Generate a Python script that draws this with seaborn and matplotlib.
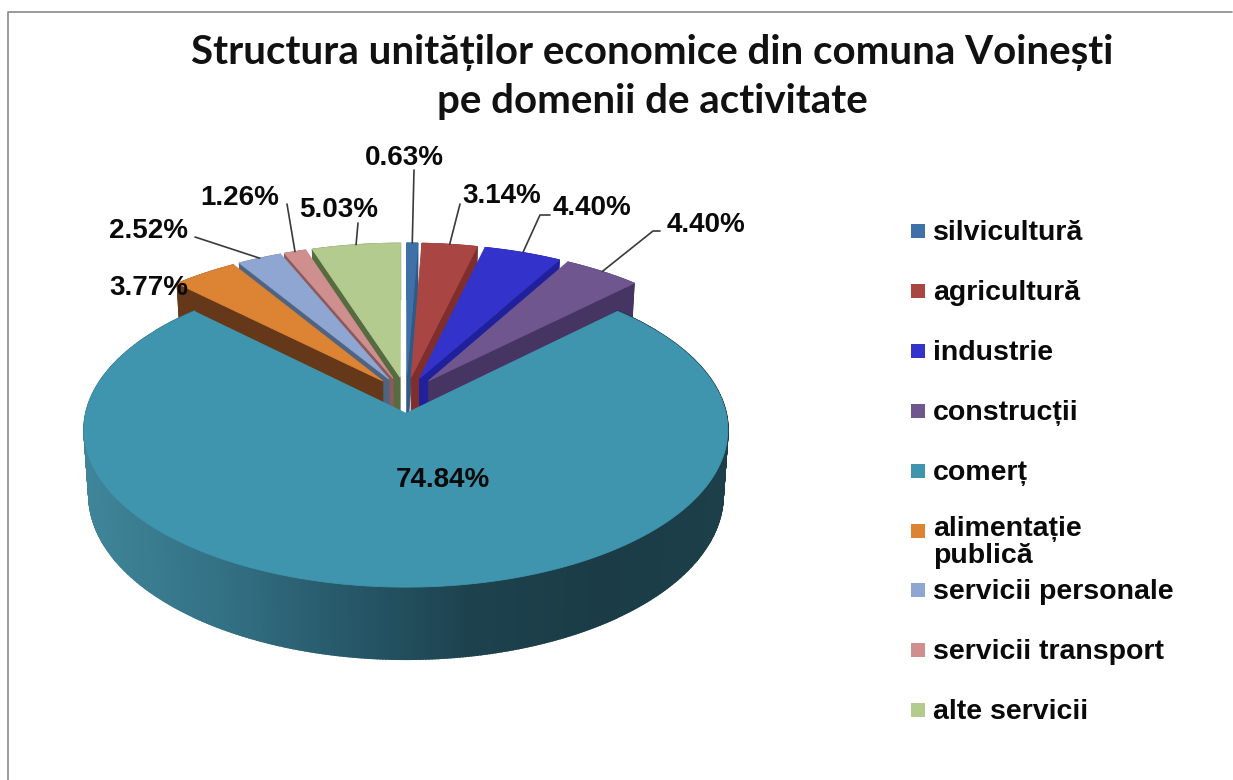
import numpy as np
import seaborn as sns
import matplotlib
matplotlib.use("Agg")
import matplotlib.pyplot as plt
from matplotlib.patches import Polygon, Rectangle

categories = ["silvicultură", "agricultură", "industrie", "construcții", "comerț",
              "alimentație\npublică", "servicii personale", "servicii transport", "alte servicii"]
shares = [0.63, 3.14, 4.40, 4.40, 74.84, 3.77, 2.52, 1.26, 5.03]
face_colors = ["#3f70a8", "#a94543", "#3333cc", "#70568f", "#4095ae", "#dc8334", "#8fa6d3", "#cf8f8f", "#b3cb8f"]
wall_colors = ["#2f5a85", "#7e2e2c", "#20209c", "#463463", "#1c3f4a", "#66381a", "#4f6480", "#8c5a5a", "#566b40"]
title_lines = "Structura unităților economice din comuna Voinești\npe domenii de activitate"

# pixel-like canvas and perspective camera
W, H = 1233, 780
CX, Y0, A, B, P, EXPLODE, DEPTH, SHRINK = 406, 395, 316, 151.7, 0.104, 0.119, 63.6, 0.015

sns.set_theme(style="white")
plt.rcParams["font.family"] = ["Liberation Sans", "DejaVu Sans"]

fig = plt.figure(figsize=(W / 100, H / 100), dpi=100, facecolor="white")
ax = fig.add_axes([0, 0, 1, 1])
ax.set_xlim(0, W)
ax.set_ylim(H, 0)
ax.axis("off")


def project(X, Z, h=0.0):
    X, Z = np.asarray(X, float), np.asarray(Z, float)
    d = 1 + P * Z
    x = CX + A * X / d * (1 - SHRINK * h)
    y = Y0 + (-B * Z + h * DEPTH) / d
    return x, y


def poly(xs, ys, color, z, lw=0.6):
    ax.add_patch(Polygon(np.column_stack([xs, ys]), closed=True, facecolor=color,
                         edgecolor=color, linewidth=lw, zorder=z))


fractions = np.array(shares) / sum(shares)
edges = np.concatenate([[0], np.cumsum(fractions)]) * 2 * np.pi
mids = (edges[:-1] + edges[1:]) / 2
gradient = sns.blend_palette(["#3f8599", "#347286", "#27596a", "#1d424e", "#1b3c47", "#1c3f4a"], n_colors=256)

order = [0, 1, 2, 3, 8, 7, 6, 5, 4]
for rank, i in enumerate(order):
    z = 2 + rank
    ex, ez = EXPLODE * np.sin(mids[i]), EXPLODE * np.cos(mids[i])
    th = np.linspace(edges[i], edges[i + 1], max(8, int(np.degrees(edges[i + 1] - edges[i]) * 2)))
    X, Z = ex + np.sin(th), ez + np.cos(th)
    xt, yt = project(X, Z)
    xb, yb = project(X, Z, 1)
    ax_x, ax_y = project(ex, ez)
    bx_x, bx_y = project(ex, ez, 1)
    if i == 4:
        # left-to-right painting so that each strip overlaps the previous one without seams
        for k in range(len(th) - 2, -1, -1):
            xm = (xt[k] + xt[k + 1]) / 2
            idx = int(np.clip((xm - 85) / (728 - 85) * 255, 0, 255))
            poly([xt[k], xt[k + 1], xb[k + 1], xb[k]], [yt[k], yt[k + 1], yb[k + 1], yb[k]],
                 gradient[idx], z, lw=1.4)
    else:
        poly(np.r_[xt, xb[::-1]], np.r_[yt, yb[::-1]], wall_colors[i], z)
        e = -1 if mids[i] < np.pi else 0
        poly([ax_x, xt[e], xb[e], bx_x], [ax_y, yt[e], yb[e], bx_y], wall_colors[i], z)
    poly(np.r_[ax_x, xt], np.r_[ax_y, yt], face_colors[i], z + 0.5)

# value labels with leader lines
label_pos = [(404, 158), (502, 196), (592, 208), (706, 225), (443, 480), (149, 288), (149, 231), (240, 198), (339, 210)]
elbows = [[(414, 170)], [(460, 204)], [(550, 215), (540, 215)], [(660, 231), (653, 231)], None, None,
          [(195, 237)], [(287, 204)], [(358, 223)]]
for i, v in enumerate(shares):
    if elbows[i] is not None:
        ex, ez = EXPLODE * np.sin(mids[i]), EXPLODE * np.cos(mids[i])
        ox, oy = project(ex + np.sin(mids[i]), ez + np.cos(mids[i]))
        px, py = zip(*elbows[i])
        ax.plot(list(px) + [float(ox)], list(py) + [float(oy)], color="#3a3a3a", lw=1.2, zorder=20)
    ax.text(*label_pos[i], f"{v:.2f}%", fontsize=20, fontweight="bold", color="#0a0a0a",
            ha="center", va="center", zorder=30)

# legend
for i, name in enumerate(categories):
    y = 231 + 59.9 * i
    ax.add_patch(Rectangle((911, y - 7), 14, 14, facecolor=face_colors[i], edgecolor="none", zorder=5))
    ax.text(933, y - 15 if "\n" in name else y + 2, name, fontsize=20.5, fontweight="bold", color="#0a0a0a",
            ha="left", va="top" if "\n" in name else "center", linespacing=1.08, zorder=6)

# title
ax.text(652, 77, title_lines, fontsize=29, fontweight="bold", color="#111111", ha="center", va="center",
        family=["Lato", "DejaVu Sans"], linespacing=1.38, zorder=30)

# chart frame
ax.plot([8, 8, W - 1], [H, 12, 12], color="#8a8a8a", lw=1.2, zorder=1)

fig.savefig("out.png", dpi=100, facecolor="white")
